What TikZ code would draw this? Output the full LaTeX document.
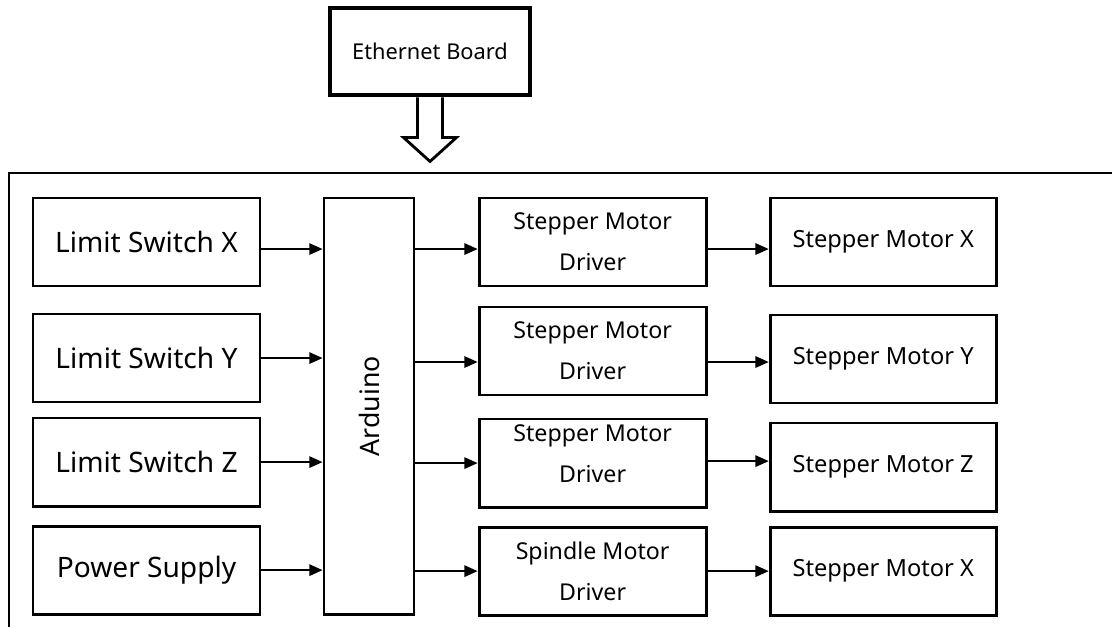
\documentclass[tikz,border=0pt]{standalone}
\usepackage{fontspec}
\setmainfont{Noto Sans}
\usetikzlibrary{positioning, arrows.meta, calc}
\tikzset{
  block/.style={rectangle, draw, line width=2pt, minimum width=5.675cm, minimum height=2.2cm, inner sep=0pt, align=center},
  lim/.style={block, font=\fontsize{20}{24}\selectfont},
  drv/.style={block, font=\fontsize{16.5}{29}\selectfont},
  mot/.style={block, minimum width=5.65cm, font=\fontsize{16.8}{20}\selectfont},
  ctrl/.style={rectangle, draw, line width=2pt, minimum width=2.25cm, minimum height=10.4cm, inner sep=0pt},
  src/.style={rectangle, draw, line width=3.5pt, minimum width=5cm, minimum height=2.175cm, font=\fontsize{15.5}{19}\selectfont},
  conn/.style={-{Triangle[length=9.5pt, width=8pt]}, line width=1.6pt},
  hollow/.style={line width=2pt, line join=miter},
  frame/.style={line width=1.8pt}
}

\begin{document}
\begin{tikzpicture}[x=0.025cm, y=-0.025cm]
  \useasboundingbox (0,0) rectangle (1112,626);

  % outer frame, cut off by the page edge
  \draw[frame] (1130,173) -- (9,173) -- (9,640);

  % Ethernet board on top, hollow arrow down into the frame
  \node[src] (Eth) at (430,51.5) {Ethernet Board};
  \draw[hollow] ($(Eth.south)+(-12.5,0)$) -- ++(0,40) -- ++(-14,0)
    -- ($(Eth.south)+(0,64)$) -- ($(Eth.south)+(26.5,40)$) -- ++(-14,0)
    -- ($(Eth.south)+(12.5,0)$);

  % COLUMN 1: inputs
  \node[lim] (LimX) at (146.5,242) {Limit Switch X};
  \node[lim, below=0.63cm of LimX] (LimY) {Limit Switch Y};
  \node[lim, below=0.33cm of LimY] (LimZ) {Limit Switch Z};
  \node[lim, below=0.43cm of LimZ] (Power) {Power Supply};

  % COLUMN 2: controller, text turned upright
  \node[ctrl, right=1.53cm of LimX.north east, anchor=north west,
    label={[rotate=90, font=\fontsize{19}{23}\selectfont]center:Arduino}] (Ard) {};

  % COLUMN 3: drivers
  \node[drv, right=1.555cm of Ard.north east, anchor=north west] (D1) {Stepper Motor\\Driver};
  \node[drv, below=0.455cm of D1] (D2) {Stepper Motor\\Driver};
  \node[drv, below=0.53cm of D2] (D3) {};
  \node[font=\fontsize{16.5}{29}\selectfont, align=center] (D3txt) at ([yshift=6.4pt]D3.center) {Stepper Motor\\Driver};
  \node[drv, below=0.43cm of D3] (D4) {Spindle Motor\\Driver};

  % COLUMN 4: motors
  \node[mot, right=1.53cm of D1] (M1) {Stepper Motor X};
  \node[mot, below=0.655cm of M1] (M2) {Stepper Motor Y};
  \node[mot, below=0.43cm of M2] (M3) {Stepper Motor Z};
  \node[mot, below=0.33cm of M3] (M4) {Stepper Motor X};

  % inputs into the Arduino
  \draw[conn] ([yshift=-5pt]LimX.east) -- ([yshift=-5pt]LimX.east -| Ard.west);
  \draw[conn] (LimY.east) -- (LimY.east -| Ard.west);
  \draw[conn] (LimZ.east) -- (LimZ.east -| Ard.west);
  \draw[conn] (Power.east) -- (Power.east -| Ard.west);

  % Arduino out to the drivers
  \draw[conn] ([yshift=-5pt]D1.west -| Ard.east) -- ([yshift=-5pt]D1.west);
  \draw[conn] ([yshift=-7.8pt]D2.west -| Ard.east) -- ([yshift=-7.8pt]D2.west);
  \draw[conn] (D3.west -| Ard.east) -- (D3.west);
  \draw[conn] (D4.west -| Ard.east) -- (D4.west);

  % drivers out to the motors
  \draw[conn] ([yshift=-5pt]D1.east) -- ([yshift=-5pt]D1.east -| M1.west);
  \draw[conn] ([yshift=-7.8pt]D2.east) -- ([yshift=-7.8pt]D2.east -| M2.west);
  \draw[conn] ([yshift=1.4pt]D3.east) -- ([yshift=1.4pt]D3.east -| M3.west);
  \draw[conn] (D4.east) -- (D4.east -| M4.west);

\end{tikzpicture}
\end{document}
